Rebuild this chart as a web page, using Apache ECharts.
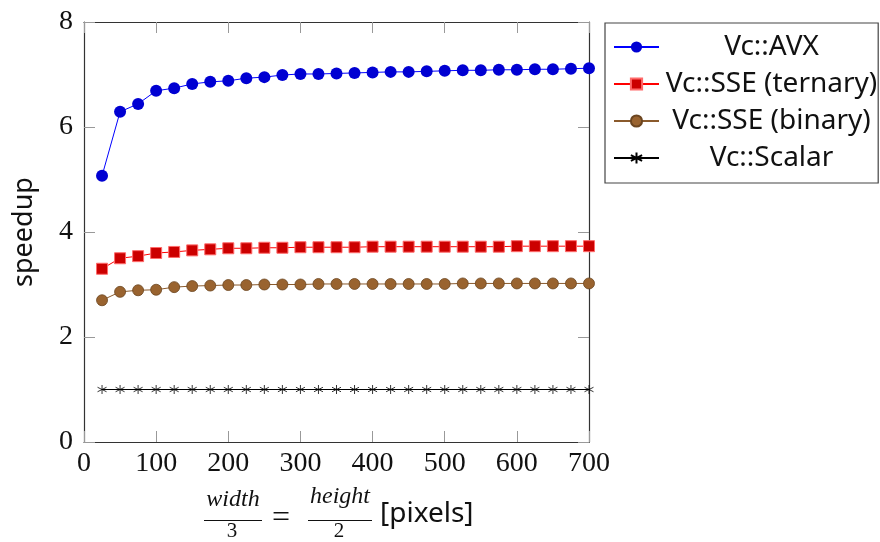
<!DOCTYPE html>
<html>
<head>
<meta charset="utf-8">
<script src="https://cdn.jsdelivr.net/npm/echarts@6/dist/echarts.min.js"></script>
<style>
  html, body { margin: 0; padding: 0; background: #fff; }
  #chart { width: 880px; height: 542px; }
</style>
</head>
<body>
<div id="chart"></div>
<script>
// x positions (width/3 = height/2, pixels)
const sizes = [25, 50, 75, 100, 125, 150, 175, 200, 225, 250, 275, 300, 325, 350,
  375, 400, 425, 450, 475, 500, 525, 550, 575, 600, 625, 650, 675, 700];
const avx = [5.07, 6.29, 6.44, 6.69, 6.74, 6.82, 6.86, 6.88, 6.93, 6.95, 6.99, 7.01, 7.01, 7.02,
  7.03, 7.04, 7.05, 7.05, 7.06, 7.07, 7.08, 7.08, 7.09, 7.09, 7.10, 7.10, 7.11, 7.12];
const sseTernary = [3.30, 3.50, 3.54, 3.60, 3.62, 3.65, 3.67, 3.69, 3.69, 3.70, 3.70, 3.71, 3.71, 3.71,
  3.71, 3.72, 3.72, 3.72, 3.72, 3.72, 3.72, 3.72, 3.72, 3.73, 3.73, 3.73, 3.73, 3.73];
const sseBinary = [2.70, 2.86, 2.89, 2.90, 2.95, 2.97, 2.98, 2.99, 2.99, 3.00, 3.00, 3.00, 3.01, 3.01,
  3.01, 3.01, 3.01, 3.01, 3.01, 3.01, 3.02, 3.02, 3.02, 3.02, 3.02, 3.02, 3.02, 3.02];
const scalar = [1, 1, 1, 1, 1, 1, 1, 1, 1, 1, 1, 1, 1, 1,
  1, 1, 1, 1, 1, 1, 1, 1, 1, 1, 1, 1, 1, 1];
const seriesNames = ["Vc::AVX", "Vc::SSE (ternary)", "Vc::SSE (binary)", "Vc::Scalar"];

const pairs = (ys) => sizes.map((x, i) => [x, ys[i]]);
const serif = "'Liberation Serif', 'DejaVu Serif', serif";
const sans = "'Noto Sans', 'Open Sans', sans-serif";
const star = "path://M5,0L5,10M0.67,2.5L9.33,7.5M0.67,7.5L9.33,2.5";
const cross = "path://M0,0L10,10M10,0L0,10";

const chart = echarts.init(document.getElementById("chart"));

const tickStyle = { show: true, inside: true, length: 11, lineStyle: { color: "#999", width: 1 } };
const lineStyle = { show: true, onZero: false, lineStyle: { color: "#333", width: 1.2 } };

chart.setOption({
  animation: false,
  grid: { left: 84, right: 291, top: 22, bottom: 100 },
  legend: {
    orient: "vertical",
    left: 605,
    top: 23,
    padding: [10, 1, 11, 8],
    itemGap: 9,
    itemWidth: 45,
    itemHeight: 14,
    borderColor: "#444",
    borderWidth: 1.2,
    data: seriesNames,
    formatter: (name) => "{c|" + name + "}",
    textStyle: {
      rich: { c: { width: 215, height: 28, align: "center", fontSize: 28, fontFamily: sans, color: "#111" } },
    },
  },
  xAxis: [
    {
      type: "value", min: 0, max: 700, interval: 100,
      axisLine: lineStyle, axisTick: tickStyle, splitLine: { show: false },
      axisLabel: { fontFamily: serif, fontSize: 28, color: "#111", margin: 8 },
    },
    {
      type: "value", position: "top", min: 0, max: 700, interval: 100,
      axisLine: lineStyle, axisTick: tickStyle, splitLine: { show: false }, axisLabel: { show: false },
    },
  ],
  yAxis: [
    {
      type: "value", min: 0, max: 8, interval: 2,
      axisLine: lineStyle, axisTick: tickStyle, splitLine: { show: false },
      axisLabel: { fontFamily: serif, fontSize: 28, color: "#111", margin: 11 },
      name: "speedup", nameLocation: "middle", nameGap: 46,
      nameTextStyle: { fontFamily: sans, fontSize: 27, color: "#111" },
    },
    {
      type: "value", position: "right", min: 0, max: 8, interval: 2,
      axisLine: lineStyle, axisTick: tickStyle, splitLine: { show: false }, axisLabel: { show: false },
    },
  ],
  series: [
    {
      name: seriesNames[0], type: "line", data: pairs(avx),
      symbol: "circle", symbolSize: 12,
      lineStyle: { color: "#0000ff", width: 1 },
      itemStyle: { color: "#0000d2" },
    },
    {
      name: seriesNames[1], type: "line", data: pairs(sseTernary),
      symbol: "rect", symbolSize: 11,
      lineStyle: { color: "#ff0000", width: 1 },
      itemStyle: { color: "#cc0000", borderColor: "#ff6a6a", borderWidth: 1 },
    },
    {
      name: seriesNames[2], type: "line", data: pairs(sseBinary),
      symbol: "circle", symbolSize: 11,
      lineStyle: { color: "#8a5a2c", width: 1 },
      itemStyle: { color: "#99632f", borderColor: "#6b4520", borderWidth: 0.8 },
    },
    {
      name: seriesNames[2] + " x", type: "scatter", data: pairs(sseBinary),
      symbol: cross, symbolSize: 6, silent: true,
      itemStyle: { color: "none", borderColor: "#5a3a18", borderWidth: 0.8 },
    },
    {
      name: seriesNames[3], type: "line", data: pairs(scalar),
      symbol: star, symbolSize: 9,
      lineStyle: { color: "#000", width: 1 },
      itemStyle: { color: "none", borderColor: "#000", borderWidth: 0.8 },
    },
  ],
  graphic: [
    { type: "text", x: 233, y: 500, style: { text: "width", font: "italic 24px " + serif, fill: "#111", align: "center", verticalAlign: "middle" } },
    { type: "line", shape: { x1: 204, y1: 520.5, x2: 262, y2: 520.5 }, style: { stroke: "#111", lineWidth: 1 } },
    { type: "text", x: 232, y: 531, style: { text: "3", font: "21px " + serif, fill: "#111", align: "center", verticalAlign: "middle" } },
    { type: "text", x: 281, y: 519, style: { text: "=", font: "32px " + serif, fill: "#111", align: "center", verticalAlign: "middle" } },
    { type: "text", x: 340, y: 497, style: { text: "height", font: "italic 24px " + serif, fill: "#111", align: "center", verticalAlign: "middle" } },
    { type: "line", shape: { x1: 308, y1: 520.5, x2: 372, y2: 520.5 }, style: { stroke: "#111", lineWidth: 1 } },
    { type: "text", x: 339, y: 531, style: { text: "2", font: "21px " + serif, fill: "#111", align: "center", verticalAlign: "middle" } },
    { type: "text", x: 380, y: 514, style: { text: "[pixels]", font: "28px " + sans, fill: "#111", align: "left", verticalAlign: "middle" } },
  ],
});
</script>
</body>
</html>
